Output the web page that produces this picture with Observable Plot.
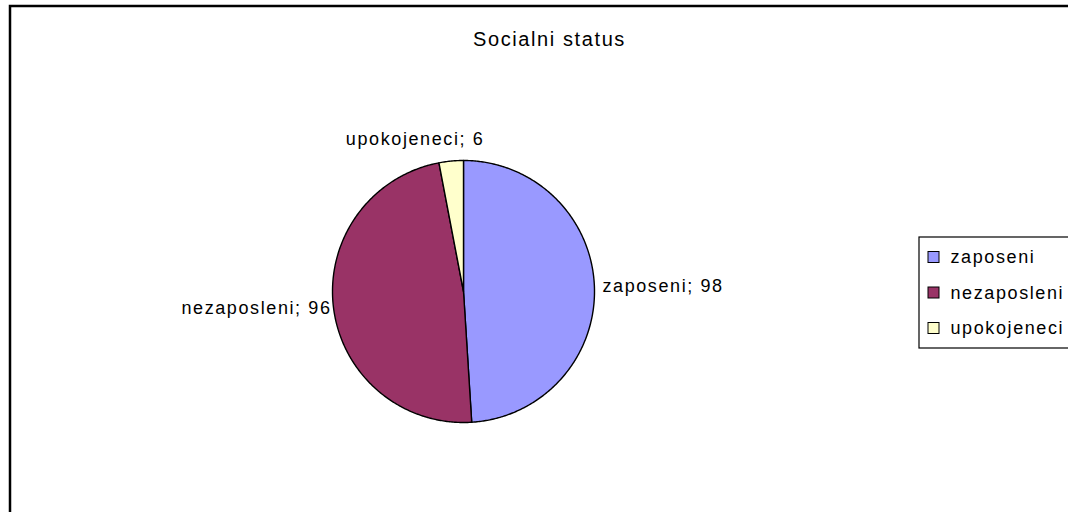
<!DOCTYPE html>
<html>
<head>
<meta charset="utf-8">
<script src="https://cdn.jsdelivr.net/npm/d3@7"></script>
<script src="https://cdn.jsdelivr.net/npm/@observablehq/plot@0.6"></script>
<style>
  html, body { margin: 0; padding: 0; background: #fff; }
  svg text { letter-spacing: 1.6px; }
</style>
</head>
<body>
<div id="chart"></div>
<script>
const title = "Socialni status";
const categories = ["zaposeni", "nezaposleni", "upokojeneci"];
const values = [98, 96, 6];
const colors = ["#9999FF", "#993366", "#FFFFCC"];

// layout (pixels)
const W = 1068, H = 512;
const cx = 463, cy = 291, R = 131;
const font = "'Liberation Sans', Arial, sans-serif";

const arcs = d3.pie().sort(null).value(d => d)(values);

// polygon outline per slice
const slicePts = [];
arcs.forEach((a, i) => {
  const cat = categories[i];
  slicePts.push({cat, x: cx, y: cy});
  const n = Math.max(2, Math.ceil((a.endAngle - a.startAngle) / 0.01));
  for (let k = 0; k <= n; k++) {
    const t = a.startAngle + (a.endAngle - a.startAngle) * k / n;
    slicePts.push({cat, x: cx + R * Math.sin(t), y: cy - R * Math.cos(t)});
  }
});

// data labels
const labelNudge = {
  zaposeni: {off: 8, dx: 0, dy: -1},
  nezaposleni: {off: 2, dx: 0, dy: 0},
  upokojeneci: {off: 22, dx: -34, dy: 0}
};
const labels = arcs.map((a, i) => {
  const cat = categories[i];
  const m = (a.startAngle + a.endAngle) / 2;
  const nd = labelNudge[cat];
  const sx = Math.sin(m), sy = -Math.cos(m);
  const anchor = Math.abs(sx) < 0.3 ? "middle" : (sx > 0 ? "start" : "end");
  return {
    cat,
    text: `${cat}; ${values[i]}`,
    x: cx + (R + nd.off) * sx + nd.dx,
    y: cy + (R + nd.off) * sy + nd.dy,
    anchor
  };
});

// legend
const legX = 919, legY = 237, legRow = 35.5, legFirst = 257;
const legend = categories.map((c, i) => ({cat: c, y: legFirst + i * legRow}));

const chart = Plot.plot({
  width: W,
  height: H,
  margin: 0,
  x: {type: "identity", axis: null},
  y: {type: "identity", axis: null},
  color: {domain: categories, range: colors},
  style: {fontFamily: font, background: "#fff", color: "#000"},
  marks: [
    // chart area border
    Plot.rect([{x1: 10, x2: W + 20, y1: 6, y2: H + 20}], {x1: "x1", x2: "x2", y1: "y1", y2: "y2", fill: "none", stroke: "#000", strokeWidth: 2.5}),
    // pie slices
    Plot.line(slicePts, {x: "x", y: "y", z: "cat", fill: "cat", stroke: "#000", strokeWidth: 1.4, curve: "linear-closed"}),
    // title
    Plot.text([title], {x: () => 549, y: () => 39, text: d => d, fontSize: 20, textAnchor: "middle", fill: "#000"}),
    // slice labels
    ...["start", "middle", "end"].map(an =>
      Plot.text(labels.filter(l => l.anchor === an), {x: "x", y: "y", text: "text", textAnchor: an, fontSize: 18, fill: "#000"})
    ),
    // legend box
    Plot.rect([{x1: legX, x2: W + 20, y1: legY, y2: legY + 111}], {x1: "x1", x2: "x2", y1: "y1", y2: "y2", fill: "#fff", stroke: "#000", strokeWidth: 1.2}),
    Plot.rect(legend, {x1: () => legX + 9, x2: () => legX + 20, y1: d => d.y - 5.5, y2: d => d.y + 5.5, fill: "cat", stroke: "#000", strokeWidth: 1}),
    Plot.text(legend, {x: () => legX + 31, y: "y", text: "cat", textAnchor: "start", fontSize: 18, fill: "#000"})
  ]
});
document.getElementById("chart").appendChild(chart);
</script>
</body>
</html>
